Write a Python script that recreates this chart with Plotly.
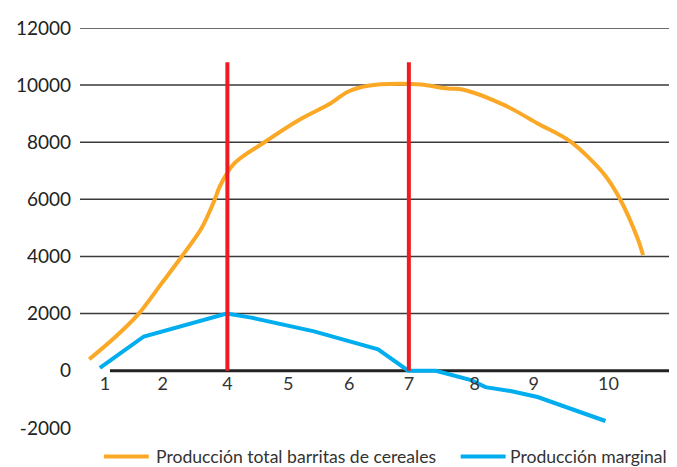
import plotly.graph_objects as go

# ---- data (x in category-position units; tick labels placed at tick_pos) ----
tick_pos = [1.0, 1.92, 2.95, 3.92, 4.89, 5.84, 6.89, 7.83, 9.02]
tick_labels = ["1", "2", "4", "5", "6", "7", "8", "9", "10"]

total_x = [0.75, 1.16, 1.54, 1.90, 2.22, 2.54, 2.75, 2.83, 3.06, 3.54, 4.13, 4.56,
           4.87, 5.19, 5.71, 6.03, 6.46, 6.71, 7.37, 7.89, 8.41, 8.95, 9.21, 9.48, 9.57]
total_y = [400, 1170, 2000, 3050, 3990, 5000, 6000, 6460, 7260, 8000, 8830, 9320,
           9770, 9980, 10050, 10020, 9880, 9840, 9290, 8660, 8030, 6880, 5980, 4650, 4050]

marg_x = [0.92, 1.62, 2.94, 3.33, 4.33, 5.35, 5.83, 6.27, 6.83, 7.06, 7.46, 7.89, 8.97]
marg_y = [100, 1200, 2000, 1860, 1380, 750, 0, 0, -330, -575, -710, -920, -1760]

red_x = [2.95, 5.84]
red_y = [0, 10800]

y_ticks = [-2000, 0, 2000, 4000, 6000, 8000, 10000, 12000]
y_labels = ["-2000", "0", "2000", "4000", "6000", "8000", "10000", "12000"]

series_names = ["Producción total barritas de cereales", "Producción marginal"]

ORANGE = "#FBA826"
BLUE = "#00AEEF"
RED = "#ED1C24"
FONT = "Lato"
Y_MIN, Y_MAX = -2600, 12000

fig = go.Figure()

fig.add_trace(go.Scatter(x=total_x, y=total_y, mode="lines",
                         line=dict(color=ORANGE, width=4, shape="spline", smoothing=0.9),
                         name=series_names[0], showlegend=False))
fig.add_trace(go.Scatter(x=marg_x, y=marg_y, mode="lines",
                         line=dict(color=BLUE, width=4),
                         name=series_names[1], showlegend=False))
for rx in red_x:
    fig.add_trace(go.Scatter(x=[rx, rx], y=red_y, mode="lines",
                             line=dict(color=RED, width=4),
                             showlegend=False, hoverinfo="skip"))

# gridlines (no line at the negative tick)
shapes = []
for v in y_ticks:
    if v > 0:
        shapes.append(dict(type="line", xref="paper", yref="y", x0=0, x1=1, y0=v, y1=v,
                           line=dict(color="#3a3a3a", width=1.5), layer="below"))
# zero axis line
shapes.append(dict(type="line", xref="x", yref="y", x0=1.08, y0=0, x1=10.2, y1=0,
                   line=dict(color="#222", width=3), layer="below"))

# manual legend (line samples + labels)
leg_y = -0.0274
leg_items = [(0.040, 0.1152, 0.1235, ORANGE, series_names[0]),
             (0.6377, 0.7129, 0.7165, BLUE, series_names[1])]
annotations = []
for x0, x1, xt, col, txt in leg_items:
    shapes.append(dict(type="line", xref="paper", yref="paper", x0=x0, x1=x1,
                       y0=leg_y, y1=leg_y, line=dict(color=col, width=4)))
    annotations.append(dict(xref="paper", yref="paper", x=xt, y=leg_y, text=txt,
                            showarrow=False, xanchor="left", yanchor="middle",
                            font=dict(size=17.6, color="#333", family=FONT)))

zero_frac = (0 - Y_MIN) / (Y_MAX - Y_MIN)

fig.update_layout(
    width=677, height=467,
    margin=dict(l=70, r=8, t=18, b=30),
    paper_bgcolor="white", plot_bgcolor="white",
    font=dict(family=FONT, color="#333"),
    shapes=shapes, annotations=annotations,
    xaxis=dict(range=[0.603, 10.11], tickvals=tick_pos, ticktext=tick_labels,
               showgrid=False, zeroline=False, showline=False,
               anchor="free", position=zero_frac,
               ticks="", tickfont=dict(size=18, color="#333", family=FONT)),
    yaxis=dict(range=[Y_MIN, Y_MAX], tickvals=y_ticks, ticktext=y_labels,
               showgrid=False, zeroline=False, showline=False, ticks="",
               ticklabelstandoff=8,
               tickfont=dict(size=19, color="#222", family=FONT)),
    showlegend=False,
)

fig.write_html("out.html")
